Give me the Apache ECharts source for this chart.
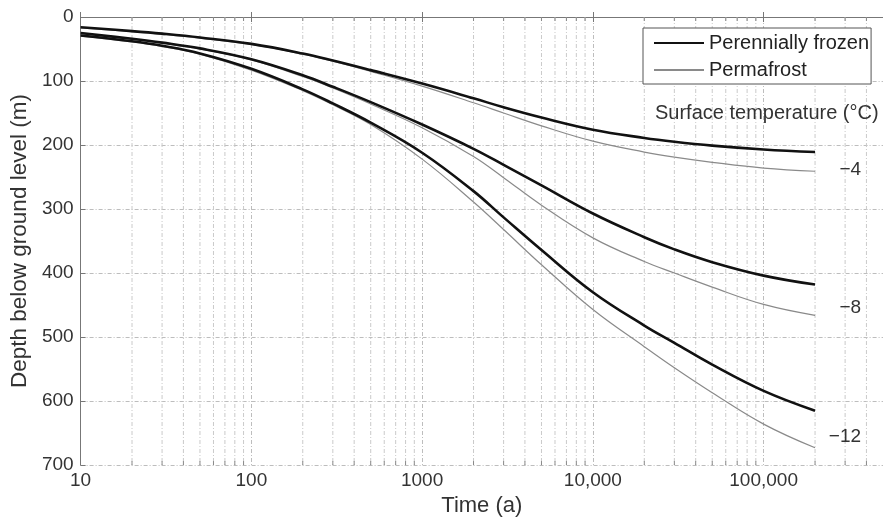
<!DOCTYPE html>
<html>
<head>
<meta charset="utf-8">
<script src="https://cdn.jsdelivr.net/npm/echarts@6/dist/echarts.min.js"></script>
<style>
  html, body { margin: 0; padding: 0; background: #fff; }
  #chart { width: 883px; height: 522px; }
</style>
</head>
<body>
<div id="chart"></div>
<script>
// Time after surface cooling (years) and depth of the frozen front (m)
const times = [10, 20, 30, 50, 100, 200, 300, 500, 1000, 2000, 3000, 5000,
               10000, 20000, 30000, 50000, 100000, 200000];

const frozenM4      = [16, 22, 26, 32, 42, 57, 68, 83, 104, 127, 141, 157, 176, 189, 195, 201, 207, 211];
const permafrostM4  = [17, 23, 27, 33, 43, 58, 69, 85, 108, 134, 150, 170, 194, 211, 219, 227, 236, 241];
const frozenM8      = [25, 34, 40, 49, 66, 91, 109, 133, 168, 206, 231, 263, 307, 344, 363, 383, 404, 418];
const permafrostM8  = [26, 35, 41, 50, 67, 93, 111, 136, 173, 218, 251, 294, 345, 382, 400, 422, 449, 466];
const frozenM12     = [29, 38, 45, 57, 81, 113, 135, 165, 212, 272, 313, 364, 430, 482, 509, 543, 584, 615];
const permafrostM12 = [30, 39, 46, 58, 83, 115, 137, 168, 222, 289, 332, 387, 457, 515, 548, 587, 636, 673];

const surfaceTemps = ['\u22124', '\u22128', '\u221212'];
const seriesNames = ['Perennially frozen', 'Permafrost'];

// Intermediate log-grid positions (2..9 in every decade)
const minorTimes = [];
[10, 100, 1000, 10000, 100000].forEach(d => {
  for (let k = 2; k <= 9; k++) {
    if (d * k <= 400000) minorTimes.push(d * k);
  }
});

const FONT = '"Liberation Sans", Arial, Helvetica, sans-serif';
const pairs = [
  [frozenM4, permafrostM4],
  [frozenM8, permafrostM8],
  [frozenM12, permafrostM12]
];

const zip = vals => times.map((t, i) => [t, vals[i]]);

const curveSeries = [];
pairs.forEach(([fz, pf]) => {
  curveSeries.push({
    name: seriesNames[0], type: 'line', data: zip(fz), smooth: 0.4,
    symbol: 'none', z: 4,
    lineStyle: { color: '#111', width: 2.6 }, itemStyle: { color: '#111' }
  });
  curveSeries.push({
    name: seriesNames[1], type: 'line', data: zip(pf), smooth: 0.4,
    symbol: 'none', z: 3,
    lineStyle: { color: '#8a8a8a', width: 1.2 }, itemStyle: { color: '#8a8a8a' }
  });
});

// Temperature labels sit to the right of each pair's last point
const tempLabelData = pairs.map(([fz, pf], i) => [
  times[times.length - 1],
  (fz[fz.length - 1] + pf[pf.length - 1]) / 2,
  surfaceTemps[i]
]);

const chart = echarts.init(document.getElementById('chart'), null, { renderer: 'canvas' });

chart.setOption({
  backgroundColor: '#fff',
  animation: false,
  grid: { left: 79, top: 17, right: -7, bottom: 50, containLabel: false },
  legend: {
    data: seriesNames,
    orient: 'vertical',
    left: 643, top: 28,
    itemWidth: 50, itemHeight: 20, itemGap: 7,
    padding: [5, 2, 4, 10],
    backgroundColor: '#fff',
    borderColor: '#555', borderWidth: 1, borderRadius: 0,
    selectedMode: false,
    itemStyle: { opacity: 0 },
    textStyle: { fontFamily: FONT, fontSize: 20, color: '#222', lineHeight: 20 }
  },
  xAxis: [{
    type: 'log', logBase: 10, min: 10, max: 500000,
    name: 'Time (a)', nameLocation: 'middle', nameGap: 27,
    nameTextStyle: { fontFamily: FONT, fontSize: 22, color: '#333' },
    axisLine: { lineStyle: { color: '#777', width: 1 } },
    axisTick: { inside: true, length: 5, lineStyle: { color: '#777' } },
    axisLabel: {
      margin: 6, fontFamily: FONT, fontSize: 19, color: '#333', showMaxLabel: false,
      formatter: v => {
        const r = Math.round(v);
        const lg = Math.log10(r);
        if (Math.abs(lg - Math.round(lg)) > 1e-6 || r > 100000) return '';
        return r >= 10000 ? r.toLocaleString('en-US') : String(r);
      }
    },
    splitLine: { show: true, lineStyle: { color: '#bdbdbd', width: 1, type: [4, 2, 1, 2] } }
  }, {
    type: 'log', logBase: 10, min: 10, max: 500000, position: 'top',
    axisLine: { lineStyle: { color: '#777', width: 1 } },
    axisTick: { inside: true, length: 5, lineStyle: { color: '#777' } },
    axisLabel: { show: false },
    splitLine: { show: false }
  }],
  yAxis: {
    type: 'value', inverse: true, min: 0, max: 700, interval: 100,
    name: 'Depth below ground level (m)', nameLocation: 'middle', nameGap: 46,
    nameTextStyle: { fontFamily: FONT, fontSize: 22.5, color: '#333' },
    axisLine: { show: true, lineStyle: { color: '#777', width: 1 } },
    axisTick: { show: true, inside: true, length: 5, lineStyle: { color: '#777' } },
    axisLabel: { margin: 7, fontFamily: FONT, fontSize: 19, color: '#333' },
    splitLine: { show: true, lineStyle: { color: '#bdbdbd', width: 1, type: [4, 2, 1, 2] } }
  },
  graphic: [{
    type: 'text', left: 655, top: 103, z: 10,
    style: { text: 'Surface temperature (\u00B0C)', font: '20px ' + FONT, fill: '#333' }
  }],
  series: [
    {
      // dotted minor grid and inner ticks at 2..9 × each decade
      type: 'custom', silent: true, z: 1,
      data: minorTimes.map(t => [t, 0]),
      encode: { x: 0, y: 1 },
      renderItem: (params, api) => {
        const top = api.coord([api.value(0), 0]);
        const bot = api.coord([api.value(0), 700]);
        return {
          type: 'group',
          children: [
            { type: 'line', shape: { x1: top[0], y1: top[1], x2: bot[0], y2: bot[1] },
              style: { stroke: '#cacaca', lineWidth: 1, lineDash: [4, 2, 1, 2] } },
            { type: 'line', shape: { x1: top[0], y1: top[1], x2: top[0], y2: top[1] + 4 },
              style: { stroke: '#888', lineWidth: 1 } },
            { type: 'line', shape: { x1: bot[0], y1: bot[1], x2: bot[0], y2: bot[1] - 4 },
              style: { stroke: '#888', lineWidth: 1 } }
          ]
        };
      }
    },
    ...curveSeries,
    {
      type: 'custom', silent: true, z: 5,
      data: tempLabelData,
      encode: { x: 0, y: 1 },
      renderItem: (params, api) => {
        const p = api.coord([api.value(0), api.value(1)]);
        return {
          type: 'text', x: p[0] + 46, y: p[1] + 8,
          style: {
            text: tempLabelData[params.dataIndex][2],
            font: '19px ' + FONT, fill: '#333',
            align: 'right', verticalAlign: 'middle'
          }
        };
      }
    }
  ]
});
</script>
</body>
</html>
